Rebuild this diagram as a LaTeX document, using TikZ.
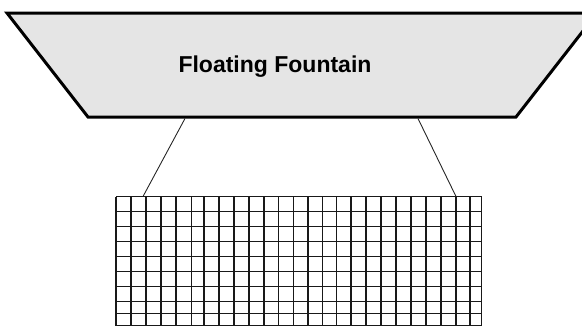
\documentclass[tikz,border=0pt]{standalone}
\usepackage{fontspec}
\setmainfont{Liberation Sans}
\definecolor{panelgray}{HTML}{E5E5E5}
\begin{document}
\begin{tikzpicture}[x=1pt,y=-1pt,
  panel/.style={draw=black,line width=3pt,fill=panelgray,line join=miter},
  gridline/.style={draw=black!90,line width=1.4pt},
  link/.style={draw=black!85,line width=0.9pt},
  title/.style={font=\bfseries\fontsize{23}{27}\selectfont,inner sep=0pt,anchor=base}]
\useasboundingbox (0,0) rectangle (582,327);
% trapezoid panel
\coordinate (tl) at (7,13);
\coordinate (tr) at (597,13);
\coordinate (br) at (516,117);
\coordinate (bl) at (88,117);
\path[panel] (tl) -- (tr) -- (br) -- (bl) -- cycle;
\node[title] (label) at (275,72) {Floating Fountain};
% anchors for connectors
\coordinate (pl) at (185,118.5);
\coordinate (pr) at (418,118.5);
\coordinate (gl) at (143,196.5);
\coordinate (gr) at (456,196.5);
\draw[link] (pl) -- (gl);
\draw[link] (pr) -- (gr);
% grid
\foreach \x in {116,131,146,161,176,191.5,204,219,234,249,264,278.5,293.5,308,322.5,336.5,351,366,381,396,411,426,441,456,470,481.5}
  \draw[gridline] (\x,196.5) -- (\x,326);
\foreach \y in {196.5,211.5,226.5,241.5,256.5,271.5,286.5,301.5,313.5,325.5}
  \draw[gridline] (116,\y) -- (481.5,\y);
\end{tikzpicture}
\end{document}
